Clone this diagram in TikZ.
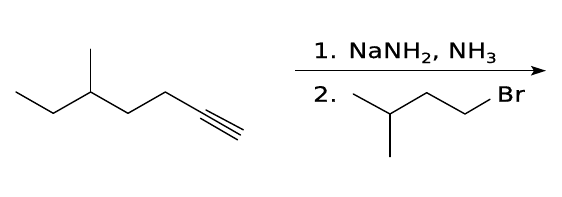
\documentclass[tikz,border=0pt]{standalone}
\usepackage{fontspec}
\newfontfamily\rf[FakeStretch=1.2,FakeBold=0.6,LetterSpace=1]{DejaVu Sans}
\usetikzlibrary{arrows.meta}
\newcommand{\sbs}[1]{\raisebox{-5pt}{\fontsize{14}{14}\selectfont #1}}
\begin{document}
\begin{tikzpicture}[x=1pt,y=-1pt,
  bond/.style={line width=1.4pt, line cap=round, line join=round},
  lbl/.style={inner sep=0pt, anchor=base west, font=\rf\fontsize{21}{22}\selectfont},
  rxn/.style={line width=1.4pt, -{Stealth[length=15pt,width=9.5pt,inset=3pt]}}]
\useasboundingbox (0,0) rectangle (562,196);
% starting alkyne
\coordinate (a1) at (16,92);
\coordinate (a2) at (53.3,113.3);
\coordinate (a3) at (90.7,92);
\coordinate (am) at (90.7,49.3);
\coordinate (a4) at (128,113.3);
\coordinate (a5) at (165.3,92);
\coordinate (a6) at (202.7,113.3);
\coordinate (a7) at (240.5,135);
\coordinate (t1) at (206,110);
\coordinate (t2) at (243.3,129.8);
\coordinate (t3) at (200.5,118.3);
\coordinate (t4) at (237.5,139.8);
\draw[bond] (a1) -- (a2) -- (a3) -- (a4) -- (a5) -- (a6) -- (a7);
\draw[bond] (a3) -- (am);
\draw[bond] (t1) -- (t2);
\draw[bond] (t3) -- (t4);
% reaction arrow
\coordinate (r1) at (295,70.7);
\coordinate (r2) at (546,70.7);
\draw[rxn] (r1) -- (r2);
\node[lbl] (step1) at (313,58) {1. NaNH\sbs{2}, NH\sbs{3}};
\node[lbl] (step2) at (313,101.7) {2.};
% isopentyl bromide
\coordinate (b1) at (353.3,94);
\coordinate (b2) at (390,114);
\coordinate (bm) at (390,156.7);
\coordinate (b3) at (426.7,92.7);
\coordinate (b4) at (465,114);
\coordinate (b5) at (490,99.3);
\node[lbl] (br) at (496.7,101.7) {Br};
\draw[bond] (b1) -- (b2) -- (b3) -- (b4) -- (b5);
\draw[bond] (b2) -- (bm);
\end{tikzpicture}
\end{document}
